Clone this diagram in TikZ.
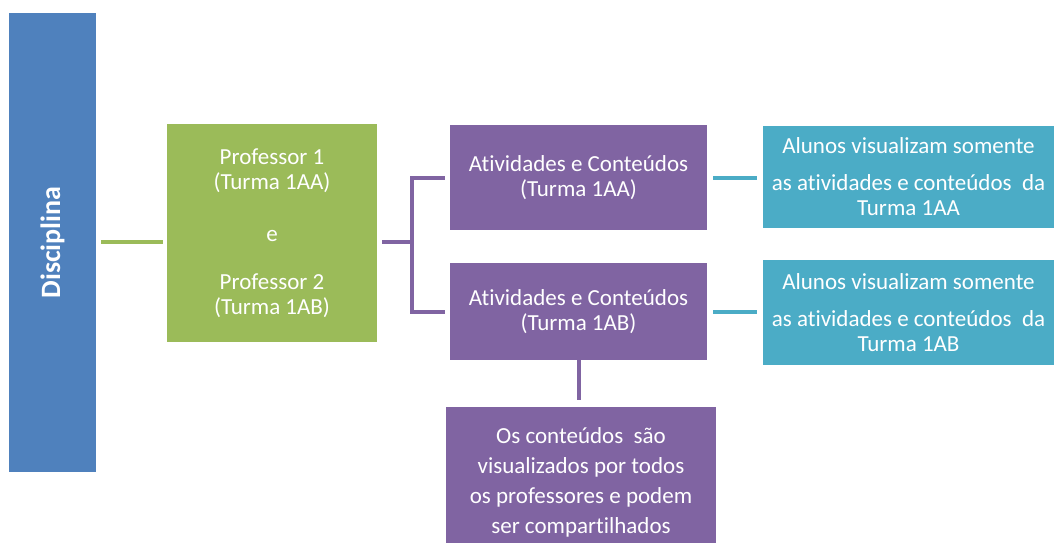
\documentclass[tikz,border=0pt]{standalone}
\usepackage{fontspec}
\setmainfont{Carlito}[Ligatures=NoCommon]
\definecolor{cblue}{HTML}{4F81BD}
\definecolor{cgreen}{HTML}{9BBB59}
\definecolor{cpurple}{HTML}{8064A2}
\definecolor{cteal}{HTML}{4BACC6}
\begin{document}
\begin{tikzpicture}[x=1pt,y=-1pt,
  box/.style={rectangle, inner sep=0pt, text=white, align=center, font=\fontsize{23}{25}\selectfont},
  gline/.style={draw=cgreen, line width=4pt},
  pline/.style={draw=cpurple, line width=4pt},
  tline/.style={draw=cteal, line width=4pt}]
\useasboundingbox (0,0) rectangle (1054,543);
\clip (0,0) rectangle (1054,543);
\node[box, fill=cblue, rotate=90, minimum width=459pt, minimum height=87pt,
  font=\fontsize{28}{30}\selectfont\bfseries] (disc) at (52.5,242.5) {Disciplina};
\node[box, fill=cgreen, minimum width=210pt, minimum height=218pt] (prof) at (272,233)
  {Professor 1\\(Turma 1AA)\\[27pt]e\\[23pt]Professor 2\\(Turma 1AB)};
\node[box, fill=cpurple, minimum width=257pt, minimum height=105pt] (a1) at (578.5,177.5)
  {Atividades e Conteúdos\\(Turma 1AA)};
\node[box, fill=cpurple, minimum width=257pt, minimum height=97pt] (a2) at (578.5,311.5)
  {Atividades e Conteúdos\\(Turma 1AB)};
\node[box, fill=cteal, minimum width=291pt, minimum height=102pt] (t1) at (908.5,177)
  {Alunos visualizam somente\\[12pt]as atividades e conteúdos\ \ da\\Turma 1AA};
\node[box, fill=cteal, minimum width=291pt, minimum height=105pt] (t2) at (908.5,312.5)
  {Alunos visualizam somente\\[12pt]as atividades e conteúdos\ \ da\\Turma 1AB};
\node[box, fill=cpurple, minimum width=270pt, minimum height=150pt,
  font=\fontsize{23}{30}\selectfont] (bot) at (581,482)
  {Os conteúdos\ \ são\\visualizados por todos\\os professores e podem\\ser compartilhados};
\coordinate (fork) at (412,242);
\draw[gline, shorten <=5pt, shorten >=4pt] (disc.south |- fork) -- (fork -| prof.west);
\draw[pline, shorten <=5pt] (prof.east |- fork) -- (fork);
\draw[pline] ([xshift=-5pt]a1.west) -| (fork) |- ([xshift=-5pt]a2.west);
\draw[tline, shorten <=6pt, shorten >=6pt] (a1.east) -- (a1.east -| t1.west);
\draw[tline, shorten <=6pt, shorten >=6pt] (a2.east) -- (a2.east -| t2.west);
\draw[pline, shorten >=7pt] (a2.south) -- (a2.south |- bot.north);
\end{tikzpicture}
\end{document}
